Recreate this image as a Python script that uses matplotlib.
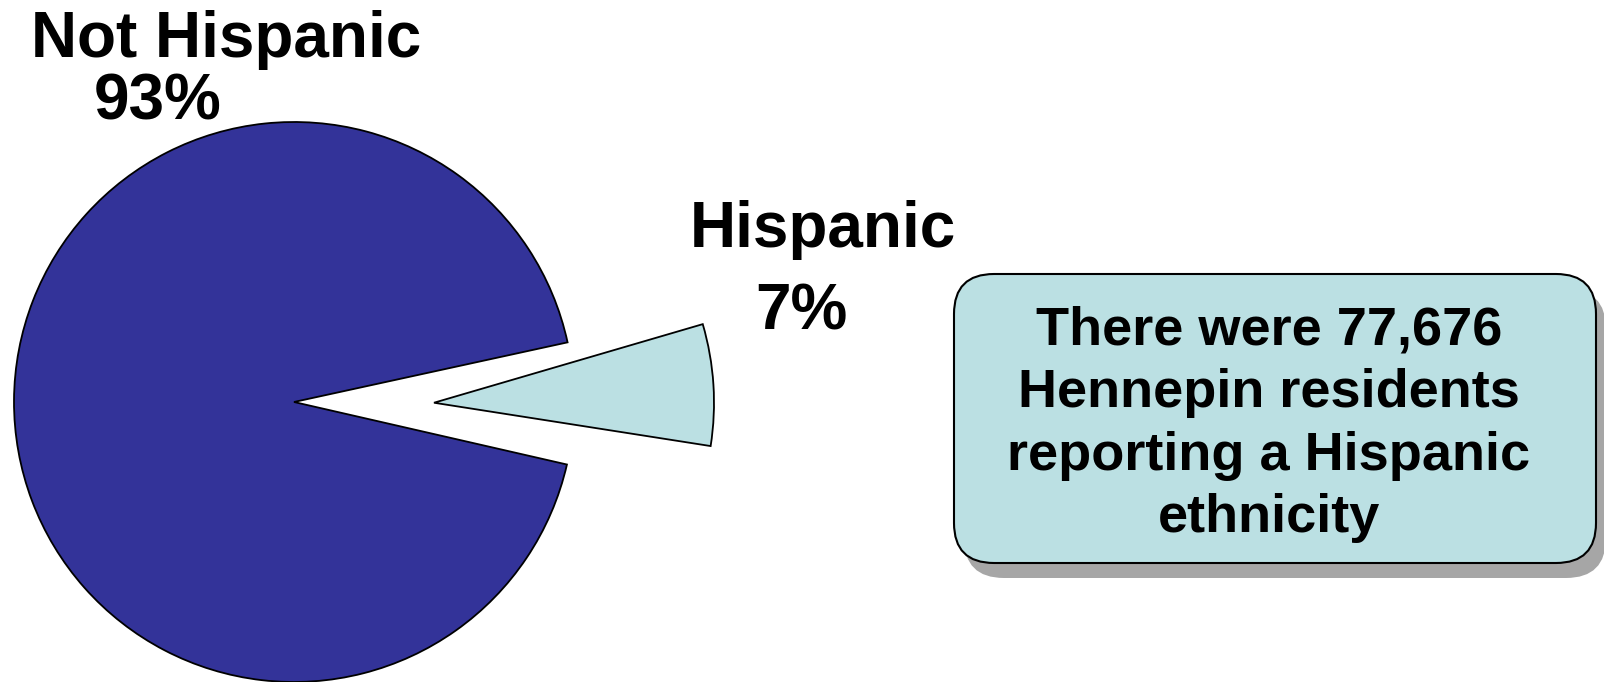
import numpy as np
import matplotlib.pyplot as plt
from matplotlib.patches import FancyBboxPatch
import matplotlib.font_manager as fm

# data
labels = ["Not Hispanic", "Hispanic"]
shares = [93, 7]
pct_text = ["93%", "7%"]
note_lines = ["There were 77,676", "Hennepin residents",
              "reporting a Hispanic", "ethnicity"]

dark_blue = "#333399"
light_teal = "#BBE0E3"

names = {f.name for f in fm.fontManager.ttflist}
narrow = "Liberation Sans Narrow" if "Liberation Sans Narrow" in names else "Liberation Sans"

W, H = 1604, 682
fig = plt.figure(figsize=(W / 100, H / 100), dpi=100)
ax = fig.add_axes([0, 0, 1, 1])

wedges, _ = ax.pie(shares, colors=[dark_blue, light_teal], startangle=12.3,
                   counterclock=True, explode=[0, 140], radius=280,
                   center=(294, 280),
                   wedgeprops=dict(edgecolor="black", linewidth=1.3))
# the small slice sits a little tilted in the original
tilt = 4
wedges[1].set_theta1(wedges[1].theta1 + tilt)
wedges[1].set_theta2(wedges[1].theta2 + tilt)

ax.set_xlim(0, W)
ax.set_ylim(0, H)
ax.set_aspect("equal")
ax.axis("off")

lab_font = dict(family=["Liberation Sans", "DejaVu Sans"], fontweight="bold",
                fontsize=46, ha="center", va="center", color="black")
ax.text(226, H - 40, labels[0], **lab_font)
ax.text(158, H - 103, pct_text[0], **lab_font)
ax.text(823, H - 230, labels[1], **lab_font)
ax.text(801, H - 312, pct_text[1], **lab_font)

# callout box with shadow
bx, by, bw, bh = 954, H - 563, 642, 289
shadow = FancyBboxPatch((bx + 10, by - 15), bw, bh,
                        boxstyle="round,pad=0,rounding_size=40",
                        facecolor="#A6A6A6", edgecolor="none", zorder=3)
box = FancyBboxPatch((bx, by), bw, bh,
                     boxstyle="round,pad=0,rounding_size=40",
                     facecolor=light_teal, edgecolor="black", linewidth=1.5,
                     zorder=4)
ax.add_patch(shadow)
ax.add_patch(box)

ax.text(bx + bw / 2 - 6, by + bh / 2 - 6, "\n".join(note_lines),
        family=[narrow, "DejaVu Sans"], fontweight="bold", fontsize=39,
        ha="center", va="center", linespacing=1.32, zorder=5)

fig.savefig("out.png", dpi=100)
